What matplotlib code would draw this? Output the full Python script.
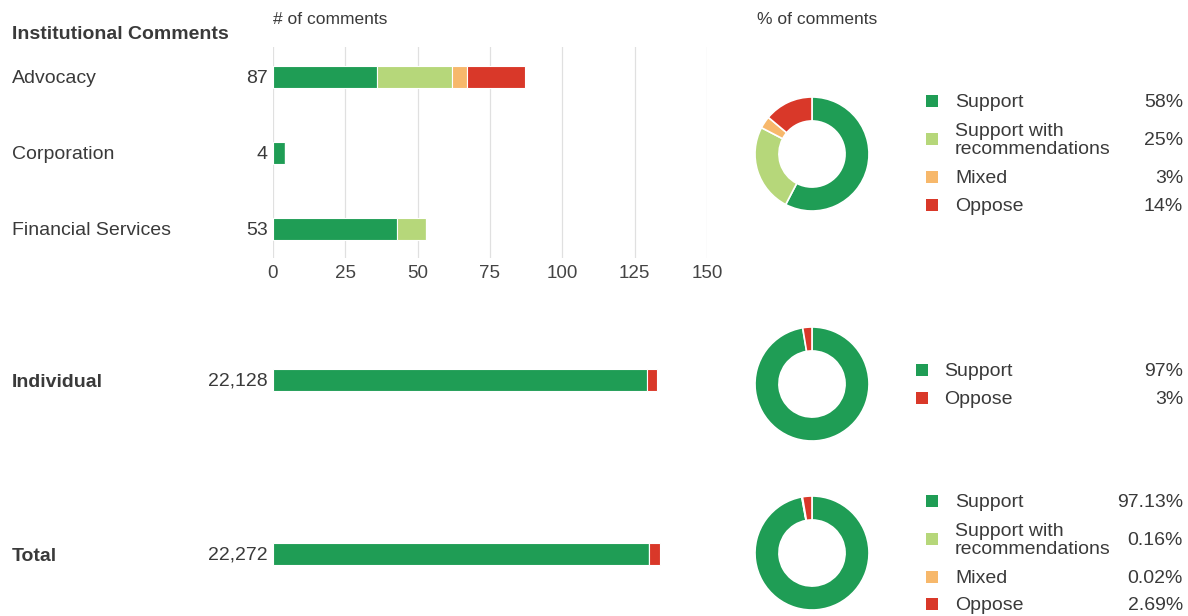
import matplotlib
matplotlib.use("Agg")
import matplotlib.pyplot as plt
from matplotlib.patches import Rectangle

plt.rcParams['font.family'] = ['Liberation Sans', 'DejaVu Sans']

# ---------------- data ----------------
categories = ["Advocacy", "Corporation", "Financial Services"]
series_names = ["Support", "Support with\nrecommendations", "Mixed", "Oppose"]
colors = ["#1f9d55", "#b6d77a", "#f7b86b", "#d93829"]

inst_support = [36, 4, 43]
inst_support_rec = [26, 0, 10]
inst_mixed = [5, 0, 0]
inst_oppose = [20, 0, 0]
inst_totals_labels = ["87", "4", "53"]

inst_pct_labels = ["58%", "25%", "3%", "14%"]

indiv_support = 21549
indiv_oppose = 579
indiv_total_label = "22,128"
indiv_pct_labels = ["97%", "3%"]

total_support = 21632
total_support_rec = 36
total_mixed = 5
total_oppose = 599
total_total_label = "22,272"
total_pct_labels = ["97.13%", "0.16%", "0.02%", "2.69%"]

x_ticks = [0, 25, 50, 75, 100, 125, 150]

# ---------------- layout helpers ----------------
W, H = 1188, 616
fig = plt.figure(figsize=(W / 100, H / 100), dpi=100)
fig.patch.set_facecolor("white")

TXT = "#3a3a3a"
FS = 14


def fx(x):
    return x / W


def fy(y):
    return 1 - y / H


def axes_px(x0, y0, x1, y1):
    return fig.add_axes([fx(x0), fy(y1), (x1 - x0) / W, (y1 - y0) / H])


def ftext(x, y, s, **kw):
    kw.setdefault("color", TXT)
    kw.setdefault("fontsize", FS)
    kw.setdefault("va", "center")
    fig.text(fx(x), fy(y + 1.5), s, **kw)


def square(x, y, color, size=12):
    fig.patches.append(Rectangle((fx(x - size / 2), fy(y + size / 2)), size / W, size / H,
                                 transform=fig.transFigure, facecolor=color, edgecolor="none"))


def donut(cx, cy, values, r=57):
    ax = axes_px(cx - r, cy - r, cx + r, cy + r)
    ax.pie(values, colors=colors[:len(values)] if len(values) == 4 else [colors[0], colors[3]],
           startangle=90, counterclock=False, radius=1,
           wedgeprops=dict(width=0.42, edgecolor="white", linewidth=1.2))
    ax.set_xlim(-1, 1)
    ax.set_ylim(-1, 1)
    ax.set_aspect("equal")
    ax.axis("off")


def legend(xsq, xtxt, xpct, rows, names, cols, pcts):
    for y, n, c, p in zip(rows, names, cols, pcts):
        square(xsq, y, c)
        ftext(xtxt, y, n, ha="left", linespacing=1.12)
        ftext(xpct, y, p, ha="right")


# ---------------- titles ----------------
ftext(273, 18, "# of comments", fontsize=12.5)
ftext(757, 18, "% of comments", fontsize=12.5)
ftext(12, 33, "Institutional Comments", fontweight="bold", fontsize=14)

# ---------------- institutional bars ----------------
ax = axes_px(273, 47, 707, 258)
ypos = list(range(len(categories)))
left = [0] * len(categories)
for vals, c in zip([inst_support, inst_support_rec, inst_mixed, inst_oppose], colors):
    ax.barh(ypos, vals, left=left, height=0.29, color=c, edgecolor="white", linewidth=0.8, zorder=3)
    left = [l + v for l, v in zip(left, vals)]
ax.set_xlim(0, 150)
ax.set_ylim(2.38, -0.395)
ax.set_xticks(x_ticks)
ax.set_xticklabels([str(t) for t in x_ticks])
ax.set_yticks([])
ax.tick_params(axis="x", length=0, pad=5, labelsize=13.5, labelcolor="#444444")
ax.grid(axis="x", color="#e0e0e0", linewidth=0.9, zorder=0)
for s in ax.spines.values():
    s.set_visible(False)
for i, (cat, lab) in enumerate(zip(categories, inst_totals_labels)):
    ax.text(-0.012, i + 0.02, lab, transform=ax.get_yaxis_transform(), ha="right", va="center",
            fontsize=FS, color=TXT)
    ax.text(-261 / 434, i + 0.02, cat, transform=ax.get_yaxis_transform(), ha="left", va="center",
            fontsize=FS, color=TXT)

donut(812, 154, [sum(inst_support), sum(inst_support_rec), sum(inst_mixed), sum(inst_oppose)])
legend(932, 955, 1183, [101, 139, 177, 205], series_names, colors, inst_pct_labels)


# ---------------- individual / total bars ----------------
def single_bar(yc, vals, cols, label, total_label):
    a = axes_px(273, yc - 20, 707, yc + 20)
    l = 0
    for v, c in zip(vals, cols):
        a.barh([0], [v], left=l, height=0.55, color=c, edgecolor="white", linewidth=0.8)
        l += v
    a.set_xlim(0, 25000)
    a.set_ylim(-0.5, 0.5)
    a.axis("off")
    ftext(12, yc + 1, label, fontweight="bold", ha="left")
    ftext(268, yc, total_label, ha="right")


single_bar(380, [indiv_support, indiv_oppose], [colors[0], colors[3]], "Individual", indiv_total_label)
donut(812, 384, [indiv_support, indiv_oppose])
legend(922, 944, 1183, [370, 398], [series_names[0], series_names[3]], [colors[0], colors[3]],
       indiv_pct_labels)

single_bar(554, [total_support, total_support_rec, total_mixed, total_oppose], colors, "Total",
           total_total_label)
donut(812, 553, [total_support, total_support_rec, total_mixed, total_oppose])
legend(932, 955, 1183, [501, 539, 577, 604], series_names, colors, total_pct_labels)

fig.savefig("out.png", dpi=100, facecolor="white")
